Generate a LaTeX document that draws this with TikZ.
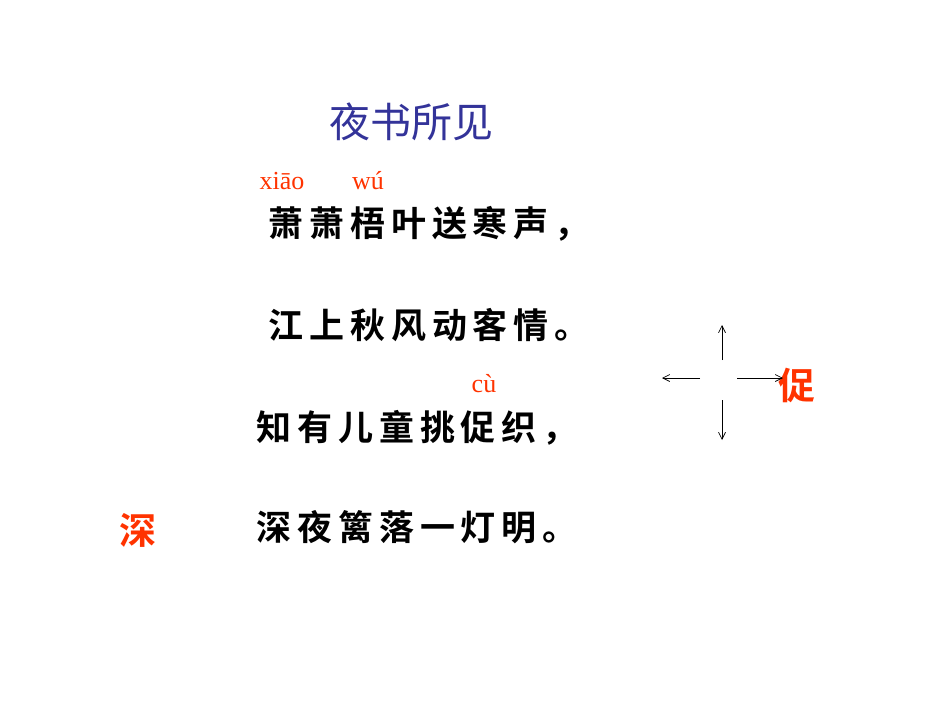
\documentclass[tikz,border=0pt]{standalone}
\usepackage{fontspec}
\usetikzlibrary{arrows.meta}
\newfontfamily\cjk{Noto Sans CJK SC}
\newfontfamily\cjkr{Noto Sans CJK SC Bold}
\newfontfamily\cjkb[LetterSpace=17]{Noto Sans CJK SC Bold}
\newfontfamily\pyfont{Liberation Serif}
\definecolor{ttl}{RGB}{51,51,153}
\definecolor{rd}{RGB}{255,51,0}
\tikzset{
  line/.style={font=\cjkb\fontsize{35}{38}\selectfont, anchor=west, inner sep=0pt},
  py/.style={font=\pyfont\fontsize{26}{28}\selectfont, text=rd, inner sep=0pt},
  redch/.style={font=\cjkr\fontsize{37}{42}\selectfont, text=rd, inner sep=0pt},
  arr/.style={-{Straight Barb[length=7pt,width=7pt]}, line width=0.7pt}
}
\begin{document}
\begin{tikzpicture}[x=1pt,y=-1pt]
\useasboundingbox (0,0) rectangle (950,713);
\node[font=\cjk\fontsize{41}{44}\selectfont, text=ttl, inner sep=0pt] (title) at (411,122) {夜书所见};
\node[py] (p1) at (282,181) {xiāo};
\node[py] (p2) at (368,181) {wú};
\node[line] (l1) at (268,224) {萧萧梧叶送寒声，};
\node[line] (l2) at (268,325) {江上秋风动客情。};
\node[py] (p3) at (484,384) {cù};
\node[line] (l3) at (256,428) {知有儿童挑促织，};
\node[line] (l4) at (256,527) {深夜篱落一灯明。};
\node[redch] (shen) at (138,530) {深};
\node[redch] (cu) at (797,385) {促};
\coordinate (u0) at (722,360); \coordinate (u1) at (722,325);
\coordinate (d0) at (722,400); \coordinate (d1) at (722,440);
\coordinate (l0) at (700,378); \coordinate (lf) at (662,378);
\coordinate (r0) at (737,378); \coordinate (r1) at (783,378);
\draw[arr] (u0) -- (u1);
\draw[arr] (d0) -- (d1);
\draw[arr] (l0) -- (lf);
\draw[arr] (r0) -- (r1);
\end{tikzpicture}
\end{document}
